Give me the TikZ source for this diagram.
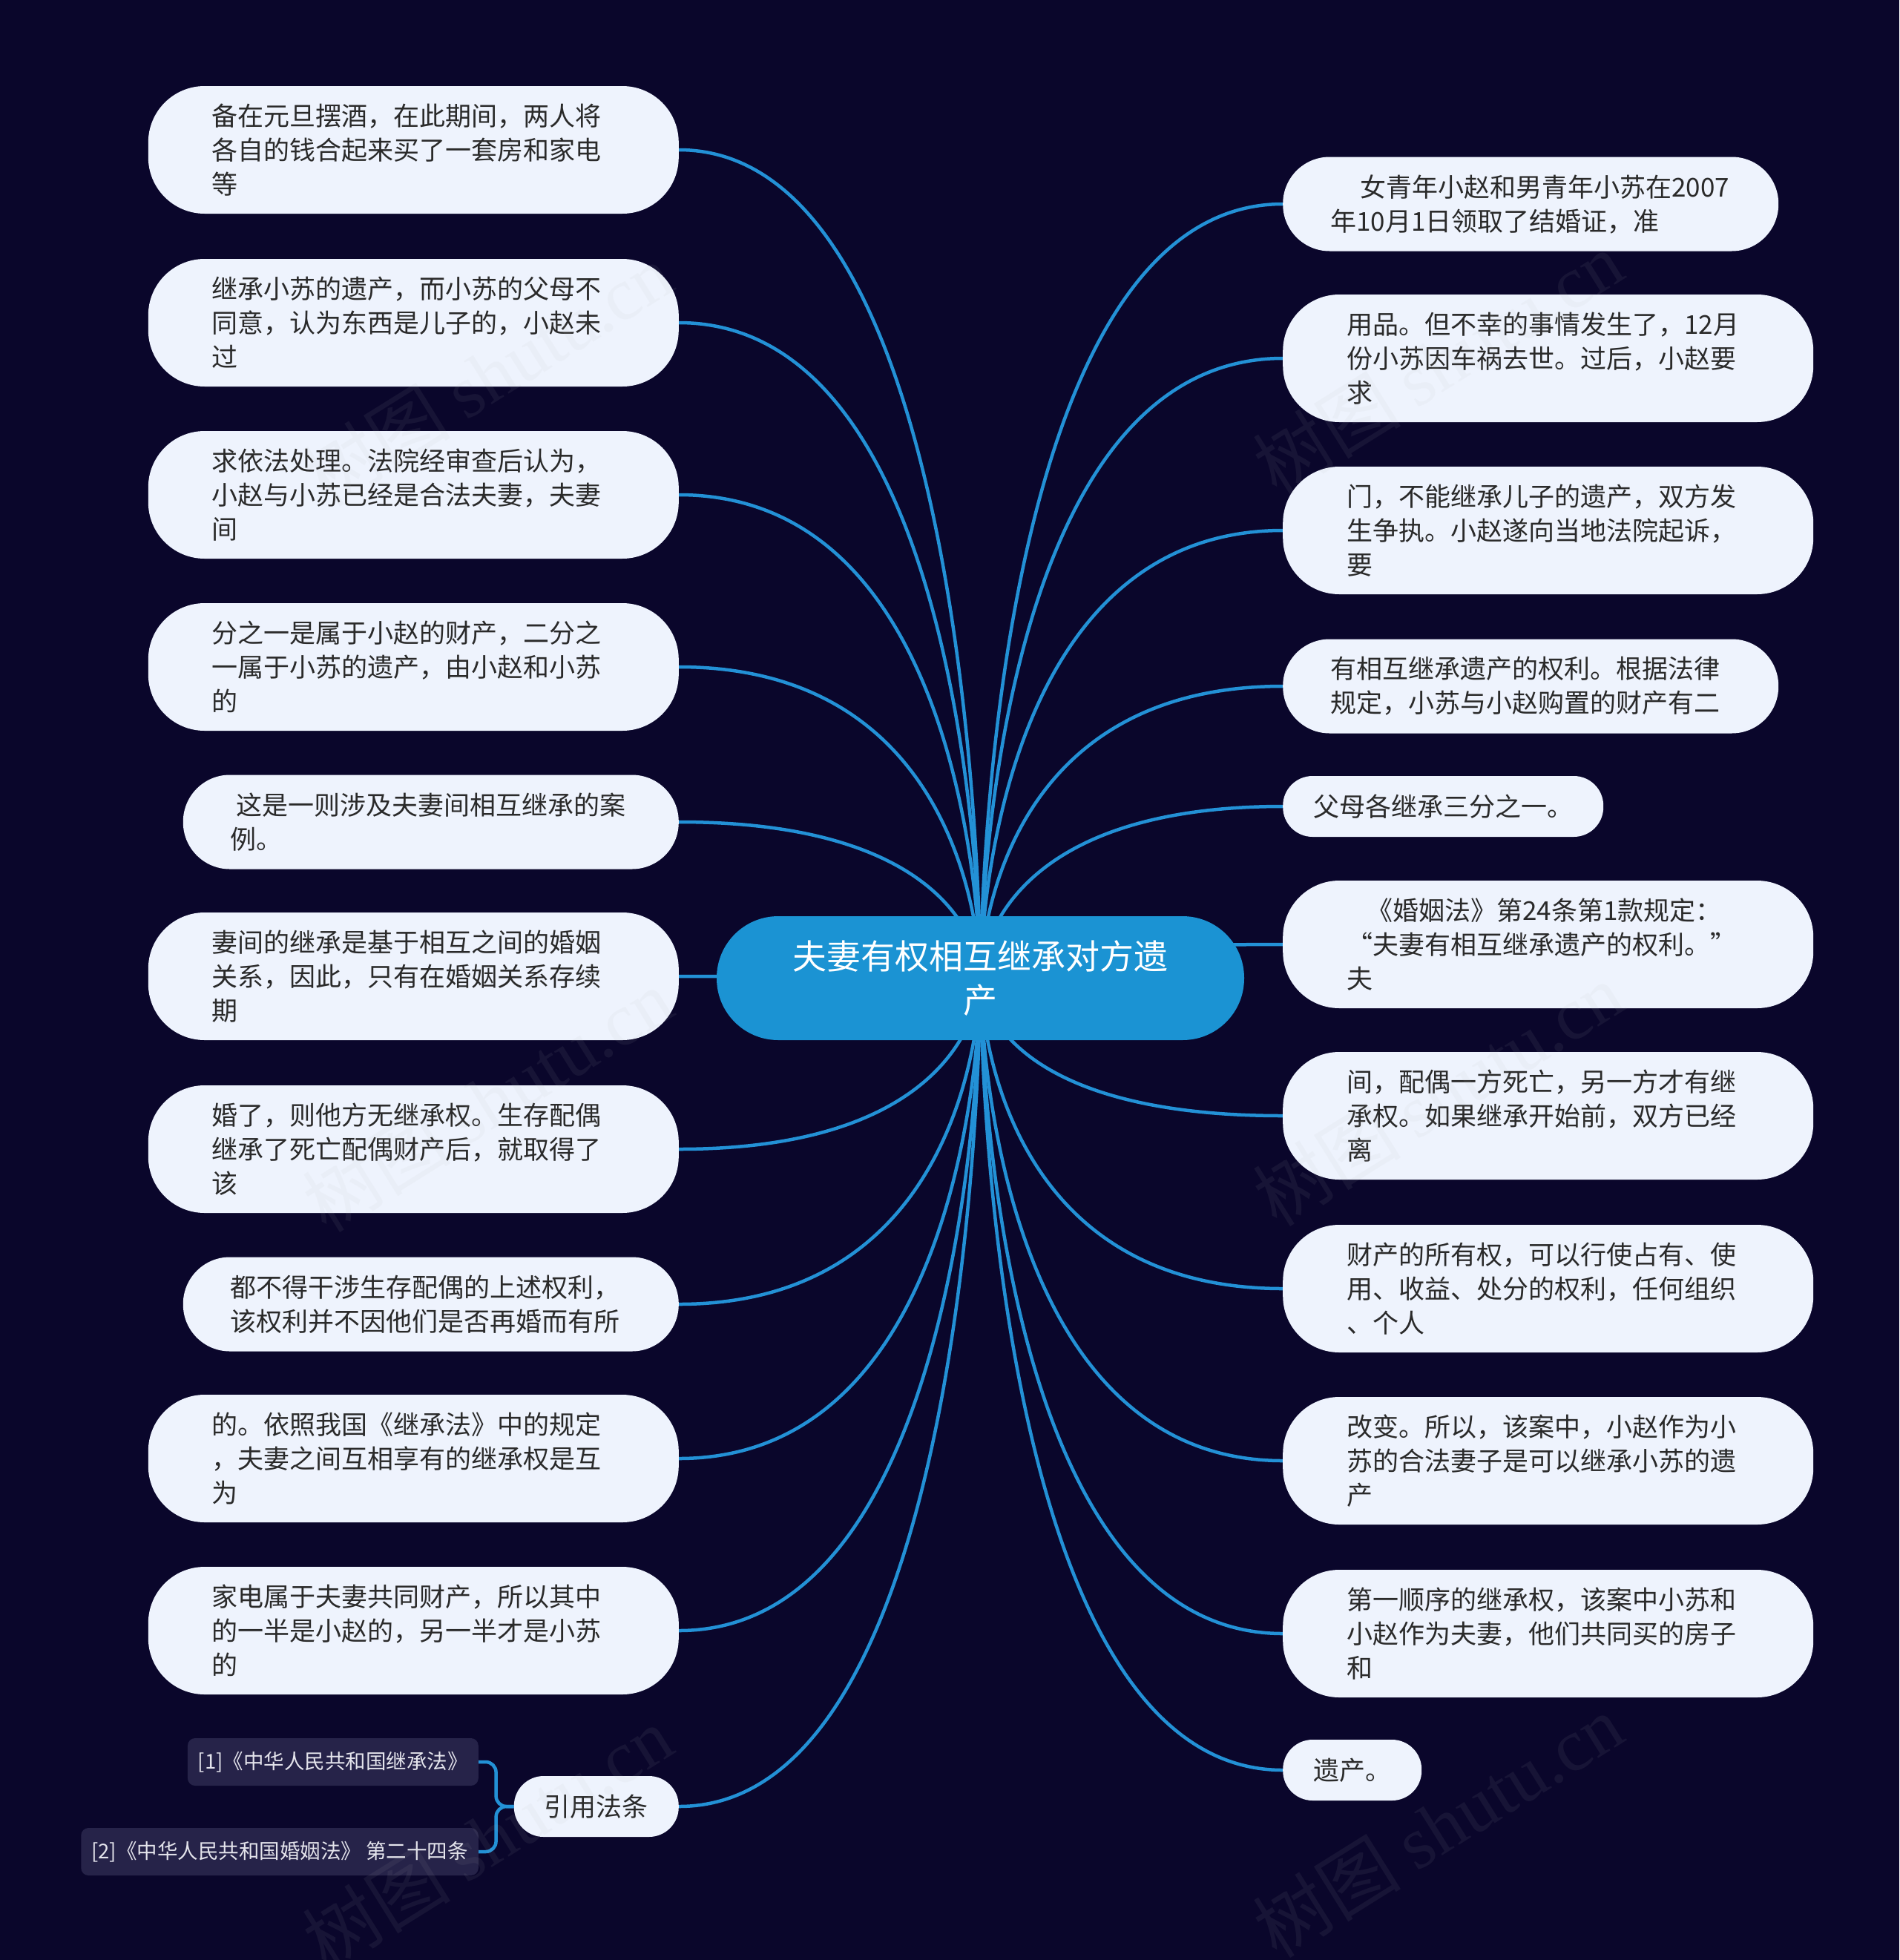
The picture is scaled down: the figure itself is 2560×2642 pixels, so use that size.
\documentclass[tikz,border=0pt]{standalone}
\usepackage{fontspec}
\setmainfont{Noto Sans CJK SC}
\newfontfamily\wmlatin{Liberation Serif}
\usetikzlibrary{calc}
\definecolor{bgc}{HTML}{0A062B}
\definecolor{leaffill}{HTML}{EEF3FD}
\definecolor{leaftext}{HTML}{2A2A2A}
\definecolor{rootfill}{HTML}{1B93D3}
\definecolor{linec}{HTML}{2391D6}
\definecolor{reffill}{HTML}{262349}
\definecolor{reftext}{HTML}{E4E4EC}
\pgfdeclarelayer{back}
\pgfdeclarelayer{links}
\pgfsetlayers{back,links,main}
\tikzset{
  leaf/.style={fill=leaffill, text=leaftext, align=left, inner ysep=0pt,
    font=\fontsize{35}{46}\selectfont},
  threeline/.style={leaf, minimum height=172, rounded corners=76, inner xsep=86, text width=543},
  twoline/.style={leaf, minimum height=127, rounded corners=63, inner xsep=64, text width=540},
  oneline/.style={leaf, minimum height=82, rounded corners=40, inner xsep=41},
  rootbox/.style={fill=rootfill, text=white, align=center, minimum width=711, minimum height=167,
    rounded corners=83, inner sep=0pt, font=\fontsize{46}{59}\selectfont},
  refbox/.style={fill=reffill, text=reftext, minimum height=64, rounded corners=10, inner xsep=14,
    inner ysep=0pt, font=\fontsize{27.5}{34}\selectfont},
  conn/.style={draw=linec, line width=4.5pt},
  wm/.style={text=gray!55, opacity=0.08, rotate=32, font=\fontsize{100}{110}\selectfont},
  lft/.style={anchor=east},
  rgt/.style={anchor=west}
}
\begin{document}
\begin{tikzpicture}[x=1pt,y=-1pt]
\begin{pgfonlayer}{back}
\fill[bgc] (0,0) rectangle (2560,2642);
\end{pgfonlayer}
\useasboundingbox (0,0) rectangle (2560,2642);

\node[rootbox] (c) at (1321.5,1318.5) {夫妻有权相互继承对方遗\\产};

% left side
\node[threeline,lft] (L1) at (915,202) {备在元旦摆酒，在此期间，两人将\\各自的钱合起来买了一套房和家电\\等};
\node[threeline,lft] (L2) at (915,435) {继承小苏的遗产，而小苏的父母不\\同意，认为东西是儿子的，小赵未\\过};
\node[threeline,lft] (L3) at (915,667) {求依法处理。法院经审查后认为，\\小赵与小苏已经是合法夫妻，夫妻\\间};
\node[threeline,lft] (L4) at (915,899) {分之一是属于小赵的财产，二分之\\一属于小苏的遗产，由小赵和小苏\\的};
\node[twoline,lft] (L5) at (915,1108) {\hspace*{8pt}这是一则涉及夫妻间相互继承的案\\例。};
\node[threeline,lft] (L6) at (915,1316) {妻间的继承是基于相互之间的婚姻\\关系，因此，只有在婚姻关系存续\\期};
\node[threeline,lft] (L7) at (915,1549) {婚了，则他方无继承权。生存配偶\\继承了死亡配偶财产后，就取得了\\该};
\node[twoline,lft] (L8) at (915,1758) {都不得干涉生存配偶的上述权利，\\该权利并不因他们是否再婚而有所};
\node[threeline,lft] (L9) at (915,1966) {的。依照我国《继承法》中的规定\\，夫妻之间互相享有的继承权是互\\为};
\node[threeline,lft] (L10) at (915,2198) {家电属于夫妻共同财产，所以其中\\的一半是小赵的，另一半才是小苏\\的};
\node[oneline,lft] (yy) at (915,2435) {引用法条};
\node[refbox,anchor=east] (r1) at (645,2375) {[1]《中华人民共和国继承法》};
\node[refbox,anchor=east] (r2) at (645,2496) {[2]《中华人民共和国婚姻法》 第二十四条};

% right side
\node[twoline,rgt] (R1) at (1729,275) {\hspace*{40pt}女青年小赵和男青年小苏在2007\\年10月1日领取了结婚证，准};
\node[threeline,rgt] (R2) at (1729,483) {用品。但不幸的事情发生了，12月\\份小苏因车祸去世。过后，小赵要\\求};
\node[threeline,rgt] (R3) at (1729,715) {门，不能继承儿子的遗产，双方发\\生争执。小赵遂向当地法院起诉，\\要};
\node[twoline,rgt] (R4) at (1729,925) {有相互继承遗产的权利。根据法律\\规定，小苏与小赵购置的财产有二};
\node[oneline,rgt] (R5) at (1729,1087) {父母各继承三分之一。};
\node[threeline,rgt] (R6) at (1729,1273) {\hspace*{27pt}《婚姻法》第24条第1款规定：\\“夫妻有相互继承遗产的权利。”\\夫};
\node[threeline,rgt] (R7) at (1729,1504) {间，配偶一方死亡，另一方才有继\\承权。如果继承开始前，双方已经\\离};
\node[threeline,rgt] (R8) at (1729,1737) {财产的所有权，可以行使占有、使\\用、收益、处分的权利，任何组织\\、个人};
\node[threeline,rgt] (R9) at (1729,1969) {改变。所以，该案中，小赵作为小\\苏的合法妻子是可以继承小苏的遗\\产};
\node[threeline,rgt] (R10) at (1729,2202) {第一顺序的继承权，该案中小苏和\\小赵作为夫妻，他们共同买的房子\\和};
\node[oneline,rgt] (R11) at (1729,2386) {遗产。};

\begin{pgfonlayer}{links}
\foreach \n in {L1,L2,L3,L4,L5,L6,L7,L8,L9,L10,yy}
  \draw[conn] (c.center) .. controls (c.center) and (c.center |- \n.east) .. (\n.east);
\foreach \n in {R1,R2,R3,R4,R5,R6,R7,R8,R9,R10,R11}
  \draw[conn] (c.center) .. controls (c.center) and (c.center |- \n.west) .. (\n.west);
\coordinate (j) at ($(yy.west)+(-24,0)$);
\draw[conn, rounded corners=14] (yy.west) -- (j) |- (r1.east);
\draw[conn, rounded corners=14] (yy.west) -- (j) |- (r2.east);
\end{pgfonlayer}

% watermarks
\foreach \p in {(657,505),(1938,489),(657,1483),(1938,1475),(657,2477),(1938,2461)}
  \node[wm] at \p {树图 {\wmlatin shutu.cn}};
\end{tikzpicture}
\end{document}
